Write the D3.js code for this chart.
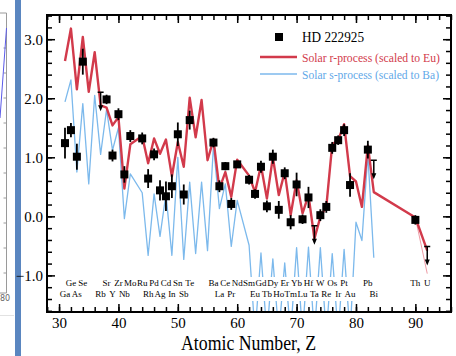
<!DOCTYPE html>
<html>
<head>
<meta charset="utf-8">
<script src="https://cdn.jsdelivr.net/npm/d3@7"></script>
<style>
  body { margin: 0; background: #fff; }
  svg { display: block; }
</style>
</head>
<body>
<svg id="chart" width="456" height="356"></svg>
<script>
// observed abundances, HD 222925 (log eps)
var obsEl = ["Ga","Ge","As","Se","Sr","Y","Zr","Nb","Mo","Ru","Rh","Pd","Ag","Cd","In","Sn","Sb","Te",
	"Ba","La","Ce","Pr","Nd","Sm","Eu","Gd","Tb","Dy","Ho","Er","Tm","Yb","Lu","Hf","W","Re","Os","Ir","Pt","Au","Pb","Th"];
var obsZ = [31,32,33,34,38,39,40,41,42,44,45,46,47,48,49,50,51,52,
	56,57,58,59,60,62,63,64,65,66,67,68,69,70,71,72,74,75,76,77,78,79,82,90];
var obsVal = [1.24,1.46,1.01,2.62,1.98,1.03,1.73,0.71,1.36,1.32,0.64,1.05,0.44,0.34,0.51,1.39,0.37,1.63,
	1.25,0.51,0.85,0.21,0.88,0.62,0.38,0.84,0.17,1.01,0.11,0.73,-0.10,0.54,-0.05,0.32,0.02,0.16,1.16,1.29,1.46,0.53,1.13,-0.06];
var obsErr = [0.26,0.12,0.22,0.22,0.08,0.10,0.10,0.14,0.10,0.10,0.16,0.10,0.17,0.25,0.20,0.20,0.17,0.16,
	0.08,0.10,0.07,0.10,0.06,0.08,0.08,0.10,0.10,0.12,0.15,0.10,0.12,0.20,0.08,0.18,0.10,0.10,0.10,0.08,0.10,0.20,0.15,0.08];

// upper limits
var limEl = ["Rb","Ta","Bi","U"];
var limZ = [37,73,83,92];
var limVal = [2.10,-0.16,0.95,-0.51];

// solar r-process, scaled to Eu
var rZ = [31,32,33,34,35,36,37,38,39,40,41,42,
	44,45,46,47,48,49,50,51,52,53,54,55,56,57,58,59,60,
	62,63,64,65,66,67,68,69,70,71,72,73,74,75,76,77,78,79,80,81,82,83,90,92];
var rVal = [2.63,3.18,2.15,3.04,2.11,2.78,1.88,1.84,1.54,1.68,0.47,1.22,
	1.36,0.90,1.32,1.06,1.30,0.68,1.26,0.84,2.01,1.34,1.97,0.95,1.30,0.47,0.75,0.33,0.96,
	0.69,0.41,0.86,0.30,1.00,0.36,0.75,0.02,0.61,0.05,0.36,-0.38,-0.01,0.16,1.22,1.29,1.56,0.68,0.59,0.16,1.20,0.41,-0.02,-0.58];
var rAltZ = [90,92];
var rAltVal = [-0.02,-0.97];

// solar s-process, scaled to Ba
var sZ = [31,32,33,34,35,36,37,38,39,40,41,42,
	44,45,46,47,48,49,50,51,52,53,54,55,56,57,58,59,60,
	62,63,64,65,66,67,68,69,70,71,72,73,74,75,76,77,78,79,80,81,82,83];
var sVal = [1.94,2.31,0.75,1.91,0.55,2.05,1.05,1.81,1.12,1.50,-0.04,0.72,
	0.40,-0.66,0.38,-0.34,0.38,-0.66,1.00,-0.73,0.58,-0.63,0.58,-0.58,1.20,0.13,0.55,-0.51,0.27,
	-0.49,-2.0,-0.62,-2.0,-0.72,-2.0,-0.79,-2.0,-0.53,-2.0,-0.52,-2.0,-0.53,-2.0,-0.63,-2.0,-0.56,-2.0,-0.10,-0.41,1.05,-0.70];

// element labels along the bottom
var labRow1 = ["Ge","Se","Sr","Zr","Mo","Ru","Pd","Cd","Sn","Te","Ba","Ce","Nd","Sm","Gd","Dy","Er","Yb","Hf","W","Os","Pt","Pb","Th","U"];
var labRow2 = ["Ga","As","Rb","Y","Nb","Rh","Ag","In","Sb","La","Pr","Eu","Tb","Ho","Tm","Lu","Ta","Re","Ir","Au","Bi"];

var xTicks = [30,40,50,60,70,80,90];
var yTicks = [-1,0,1,2,3];

var zOf = {};
obsEl.forEach(function (e, i) { zOf[e] = obsZ[i]; });
limEl.forEach(function (e, i) { zOf[e] = limZ[i]; });

var RED = "#d23a4b", BLUE = "#7cb9ec", SERIF = "'Liberation Serif', 'DejaVu Serif', serif";

var svg = d3.select("#chart");

// left edge of the slide: another panel and a divider
var side = svg.append("g");
side.append("path").attr("d", "M0,13H6.5V293H0").attr("fill", "none").attr("stroke", "#9a9a9a").attr("stroke-width", 1);
d3.range(48, 280, 25).forEach(function (y) {
	side.append("line").attr("x1", 3.5).attr("x2", 6.5).attr("y1", y).attr("y2", y).attr("stroke", "#9a9a9a");
});
side.append("line").attr("x1", 6.5).attr("y1", 28).attr("x2", 0).attr("y2", 118).attr("stroke", "#5a5ae8").attr("stroke-width", 1);
side.append("text").attr("x", 0).attr("y", 301).attr("font-family", "'DejaVu Sans', sans-serif").attr("font-size", 8).attr("fill", "#666").text("80");
side.append("line").attr("x1", 0).attr("x2", 14).attr("y1", 315.5).attr("y2", 315.5).attr("stroke", "#e2e2e2");
side.append("rect").attr("x", 15).attr("y", 0).attr("width", 6).attr("height", 356).attr("fill", "#5a86c0");

var margin = { top: 15, right: 5, bottom: 44, left: 47 },
	width = +svg.attr("width") - margin.left - margin.right,
	height = +svg.attr("height") - margin.top - margin.bottom,
	g = svg.append("g").attr("transform", "translate(" + margin.left + "," + margin.top + ")");

var scaleX = d3.scaleLinear().domain([27.97, 96.0]).range([0, width]);
var scaleY = d3.scaleLinear().domain([-1.62, 3.41]).range([height, 0]);

g.append("defs").append("clipPath").attr("id", "clip")
	.append("rect").attr("width", width).attr("height", height);

var line = d3.line().x(function (d) { return scaleX(d[0]); }).y(function (d) { return scaleY(d[1]); });

var plot = g.append("g").attr("clip-path", "url(#clip)");

plot.append("path")
	.datum(d3.zip(sZ, sVal))
	.attr("fill", "none").attr("stroke", BLUE).attr("stroke-width", 1.3).attr("stroke-linejoin", "round")
	.attr("d", line);

// element name band
plot.append("rect").attr("x", 0).attr("y", 262).attr("width", width).attr("height", 24).attr("fill", "#fff");
var labs = g.append("g").attr("font-family", SERIF).attr("font-size", 9).attr("text-anchor", "middle");
labs.selectAll(".r1").data(labRow1).enter().append("text")
	.attr("x", function (d) { return scaleX(zOf[d]); }).attr("y", 271).text(function (d) { return d; });
labs.selectAll(".r2").data(labRow2).enter().append("text")
	.attr("x", function (d) { return scaleX(zOf[d]); }).attr("y", 282).text(function (d) { return d; });

plot.append("path")
	.datum(d3.zip(rAltZ, rAltVal))
	.attr("fill", "none").attr("stroke", "#ee9aa4").attr("stroke-width", 1)
	.attr("d", line);
plot.append("path")
	.datum(d3.zip(rZ, rVal))
	.attr("fill", "none").attr("stroke", RED).attr("stroke-width", 2.4).attr("stroke-linejoin", "round")
	.attr("d", line);

// observed points
var obs = d3.range(obsZ.length).map(function (i) { return { z: obsZ[i], v: obsVal[i], e: obsErr[i] }; });
plot.selectAll(".err").data(obs).enter().append("line")
	.attr("x1", function (d) { return scaleX(d.z); }).attr("x2", function (d) { return scaleX(d.z); })
	.attr("y1", function (d) { return scaleY(d.v + d.e); }).attr("y2", function (d) { return scaleY(d.v - d.e); })
	.attr("stroke", "#000").attr("stroke-width", 1.8);
plot.selectAll(".pt").data(obs).enter().append("rect")
	.attr("x", function (d) { return scaleX(d.z) - 4; }).attr("y", function (d) { return scaleY(d.v) - 4; })
	.attr("width", 8).attr("height", 8).attr("fill", "#000");

// upper limits
var lims = d3.range(limZ.length).map(function (i) { return { z: limZ[i], v: limVal[i] }; });
var ul = plot.selectAll(".lim").data(lims).enter().append("g")
	.attr("transform", function (d) { return "translate(" + scaleX(d.z) + "," + scaleY(d.v) + ")"; });
ul.append("path").attr("d", "M-3,0H3M0,0V15").attr("stroke", "#000").attr("stroke-width", 1.5).attr("fill", "none");
ul.append("path").attr("d", "M-2.5,13L0,19L2.5,13Z").attr("fill", "#000");

// axes, ticks pointing inward
var xMinor = d3.range(28, 97, 2), yMinor = d3.range(-1.6, 3.45, 0.2);
function ax(sel) {
	sel.attr("font-family", SERIF).attr("font-size", 15);
	sel.select(".domain").remove();
	sel.selectAll("line").attr("stroke", "#000").attr("stroke-width", 1.5);
	sel.selectAll("text").attr("fill", "#000");
}
g.append("g").attr("transform", "translate(0," + height + ")")
	.call(d3.axisBottom(scaleX).tickValues(xMinor).tickSize(-5).tickFormat("")).call(ax);
g.append("g").attr("transform", "translate(0," + height + ")")
	.call(d3.axisBottom(scaleX).tickValues(xTicks).tickSize(-8).tickPadding(5).tickFormat(d3.format("d"))).call(ax);
g.append("g").call(d3.axisTop(scaleX).tickValues(xMinor).tickSize(-5).tickFormat("")).call(ax);
g.append("g").call(d3.axisTop(scaleX).tickValues(xTicks).tickSize(-8).tickFormat("")).call(ax);
g.append("g").call(d3.axisLeft(scaleY).tickValues(yMinor).tickSize(-5).tickFormat("")).call(ax);
g.append("g").call(d3.axisLeft(scaleY).tickValues(yTicks).tickSize(-8).tickPadding(4).tickFormat(d3.format(".1f"))).call(ax);
g.append("g").attr("transform", "translate(" + width + ",0)")
	.call(d3.axisRight(scaleY).tickValues(yMinor).tickSize(-5).tickFormat("")).call(ax);
g.append("g").attr("transform", "translate(" + width + ",0)")
	.call(d3.axisRight(scaleY).tickValues(yTicks).tickSize(-8).tickFormat("")).call(ax);

g.append("rect").attr("width", width).attr("height", height)
	.attr("fill", "none").attr("stroke", "#000").attr("stroke-width", 2);

g.append("text").attr("x", width / 2 - 0.5).attr("y", height + 38)
	.attr("text-anchor", "middle").attr("font-family", SERIF).attr("font-size", 20)
	.attr("textLength", 135).attr("lengthAdjust", "spacingAndGlyphs").text("Atomic Number, Z");

// legend
var lg = g.append("g").attr("transform", "translate(" + 213 + "," + 22 + ")").attr("font-family", SERIF);
lg.append("rect").attr("x", 15).attr("y", -4).attr("width", 8).attr("height", 8).attr("fill", "#000");
lg.append("text").attr("x", 42).attr("y", 5).attr("font-size", 15)
	.attr("textLength", 62).attr("lengthAdjust", "spacingAndGlyphs").text("HD 222925");
lg.append("line").attr("x1", 0).attr("x2", 37).attr("y1", 20).attr("y2", 20).attr("stroke", RED).attr("stroke-width", 2.4);
lg.append("text").attr("x", 42).attr("y", 24.5).attr("font-size", 13).attr("fill", RED)
	.attr("textLength", 138).attr("lengthAdjust", "spacingAndGlyphs").text("Solar r-process (scaled to Eu)");
lg.append("line").attr("x1", 0).attr("x2", 37).attr("y1", 37).attr("y2", 37).attr("stroke", BLUE).attr("stroke-width", 1.3);
lg.append("text").attr("x", 42).attr("y", 41.5).attr("font-size", 13).attr("fill", "#5fa8e8")
	.attr("textLength", 137).attr("lengthAdjust", "spacingAndGlyphs").text("Solar s-process (scaled to Ba)");
</script>
</body>
</html>
